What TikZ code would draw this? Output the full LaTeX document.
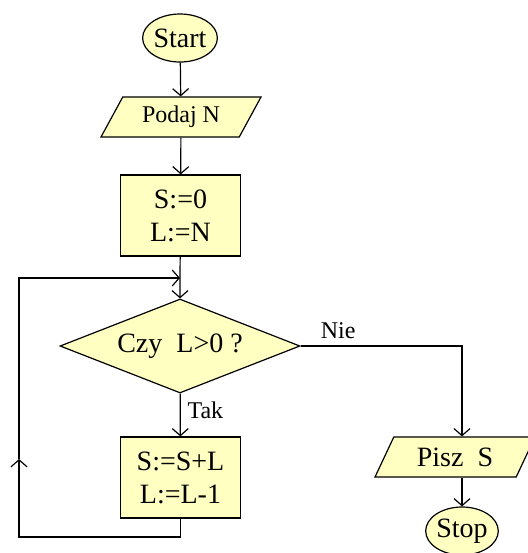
\documentclass[tikz,border=0pt]{standalone}
\usepackage{fontspec}
\setmainfont{Liberation Serif}
\usetikzlibrary{arrows.meta,shapes.geometric}
\definecolor{BoxClr}{rgb}{1,1,0.76}

\begin{document}
\begin{tikzpicture}[x=0.5pt,y=-0.5pt,line width=0.6pt,
  arr/.style={-{Straight Barb[length=3.5pt,width=8pt]}},
  term/.style={ellipse,draw,fill=BoxClr,inner sep=0pt,minimum width=37pt,minimum height=24pt,
    font=\fontsize{14}{16}\selectfont},
  io/.style={trapezium,trapezium left angle=45,trapezium right angle=135,trapezium stretches body,
    draw,fill=BoxClr,inner sep=0pt,minimum width=80pt,minimum height=20pt},
  proc/.style={rectangle,draw,fill=BoxClr,minimum width=60pt,minimum height=40.5pt,align=center,
    font=\fontsize{14}{16.5}\selectfont},
  cond/.style={diamond,draw,fill=BoxClr,inner sep=0pt,aspect=2.5,minimum width=120pt,minimum height=47pt,
    font=\fontsize{14}{16}\selectfont},
  small/.style={font=\fontsize{12}{14}\selectfont}]
\useasboundingbox (0,0) rectangle (527,553);

\node[term] (start) at (180,38) {Start};
\node[io,small] (podaj) at (181,117) {Podaj N};
\node[proc] (init) at (180.5,215.5) {S:=0\\L:=N};
\coordinate (join) at (180,278);
\node[cond] (test) at (180,346) {Czy\ \ L>0 ?};
\node[proc] (body) at (180.5,477.5) {S:=S+L\\L:=L-1};
\node[io,font=\fontsize{14}{16}\selectfont] (pisz) at (455,457) {Pisz\ \ S};
\node[term,minimum width=34pt] (stop) at (462,531) {Stop};
\coordinate (loopb) at (19,537);
\coordinate (loopm) at (19,459);

\draw[arr] (start) -- (podaj);
\draw[arr] (podaj) -- (init);
\draw[arr] (init) -- (join) -- (test);
\draw[arr] (test) -- node[right,small,pos=0.4] {Tak} (body);
\draw[arr] (body.south) |- (loopb) -- (loopm);
\draw[arr] (loopm) |- (join);
\draw[arr] (test.east) -| node[anchor=south west,small,pos=0.04] {Nie} (stop.north |- pisz.north);
\draw[arr] (stop.north |- pisz.south) -- (stop);

\end{tikzpicture}
\end{document}
